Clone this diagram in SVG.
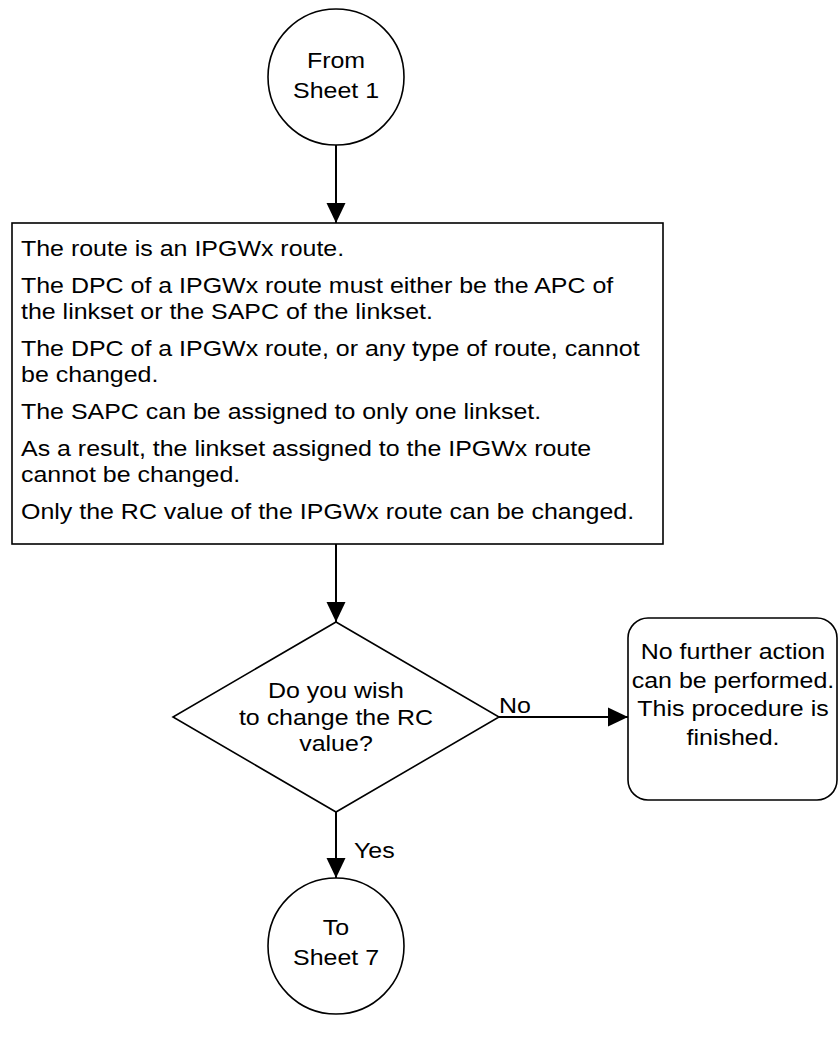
<svg xmlns="http://www.w3.org/2000/svg" width="838" height="1063" viewBox="0 0 838 1063">
<style>
.shape{fill:#fff;stroke:#000;stroke-width:1.6}
.conn{fill:none;stroke:#000;stroke-width:2}
text{font-family:"Liberation Sans",Arial,sans-serif;font-size:22.5px;fill:#000}
</style>
<defs>
<marker id="arr" markerUnits="userSpaceOnUse" markerWidth="20" markerHeight="20" refX="20" refY="10" orient="auto" viewBox="0 0 20 20">
<path d="M0,0.5 L20,10 L0,19.5 z" fill="#000"/>
</marker>
</defs>
<rect width="838" height="1063" fill="#fff"/>
<g id="connectors">
<line class="conn" x1="336" y1="145" x2="336" y2="223" marker-end="url(#arr)"/>
<line class="conn" x1="336" y1="544" x2="336" y2="622" marker-end="url(#arr)"/>
<line class="conn" x1="499" y1="717" x2="628" y2="717" marker-end="url(#arr)"/>
<line class="conn" x1="336" y1="812" x2="336" y2="878" marker-end="url(#arr)"/>
<text transform="translate(499,0) scale(1.11,1)"><tspan x="0" y="713">No</tspan></text>
<text transform="translate(354,0) scale(1.11,1)"><tspan x="0" y="858">Yes</tspan></text>
</g>
<g id="from-sheet">
<circle class="shape" cx="336" cy="77" r="68"/>
<text transform="translate(336,0) scale(1.11,1)" text-anchor="middle"><tspan x="0" y="68">From</tspan><tspan x="0" y="98">Sheet 1</tspan></text>
</g>
<g id="info-box">
<rect class="shape" x="12" y="223" width="651" height="321"/>
<text transform="translate(21,0) scale(1.11,1)">
<tspan x="0" y="256">The route is an IPGWx route.</tspan>
<tspan x="0" y="293">The DPC of a IPGWx route must either be the APC of</tspan>
<tspan x="0" y="319">the linkset or the SAPC of the linkset.</tspan>
<tspan x="0" y="356">The DPC of a IPGWx route, or any type of route, cannot</tspan>
<tspan x="0" y="382">be changed.</tspan>
<tspan x="0" y="419">The SAPC can be assigned to only one linkset.</tspan>
<tspan x="0" y="456">As a result, the linkset assigned to the IPGWx route</tspan>
<tspan x="0" y="482">cannot be changed.</tspan>
<tspan x="0" y="519">Only the RC value of the IPGWx route can be changed.</tspan>
</text>
</g>
<g id="decision">
<polygon class="shape" points="336,622 499,717 336,812 173,717"/>
<text transform="translate(336,0) scale(1.11,1)" text-anchor="middle"><tspan x="0" y="698">Do you wish</tspan><tspan x="0" y="725">to change the RC</tspan><tspan x="0" y="751">value?</tspan></text>
</g>
<g id="no-action">
<rect class="shape" x="628" y="618" width="209" height="182" rx="20" ry="20"/>
<text transform="translate(733,0) scale(1.11,1)" text-anchor="middle"><tspan x="0" y="659">No further action</tspan><tspan x="0" y="688">can be performed.</tspan><tspan x="0" y="716">This procedure is</tspan><tspan x="0" y="745">finished.</tspan></text>
</g>
<g id="to-sheet">
<circle class="shape" cx="336" cy="946" r="68"/>
<text transform="translate(336,0) scale(1.11,1)" text-anchor="middle"><tspan x="0" y="935">To</tspan><tspan x="0" y="965">Sheet 7</tspan></text>
</g>
</svg>
